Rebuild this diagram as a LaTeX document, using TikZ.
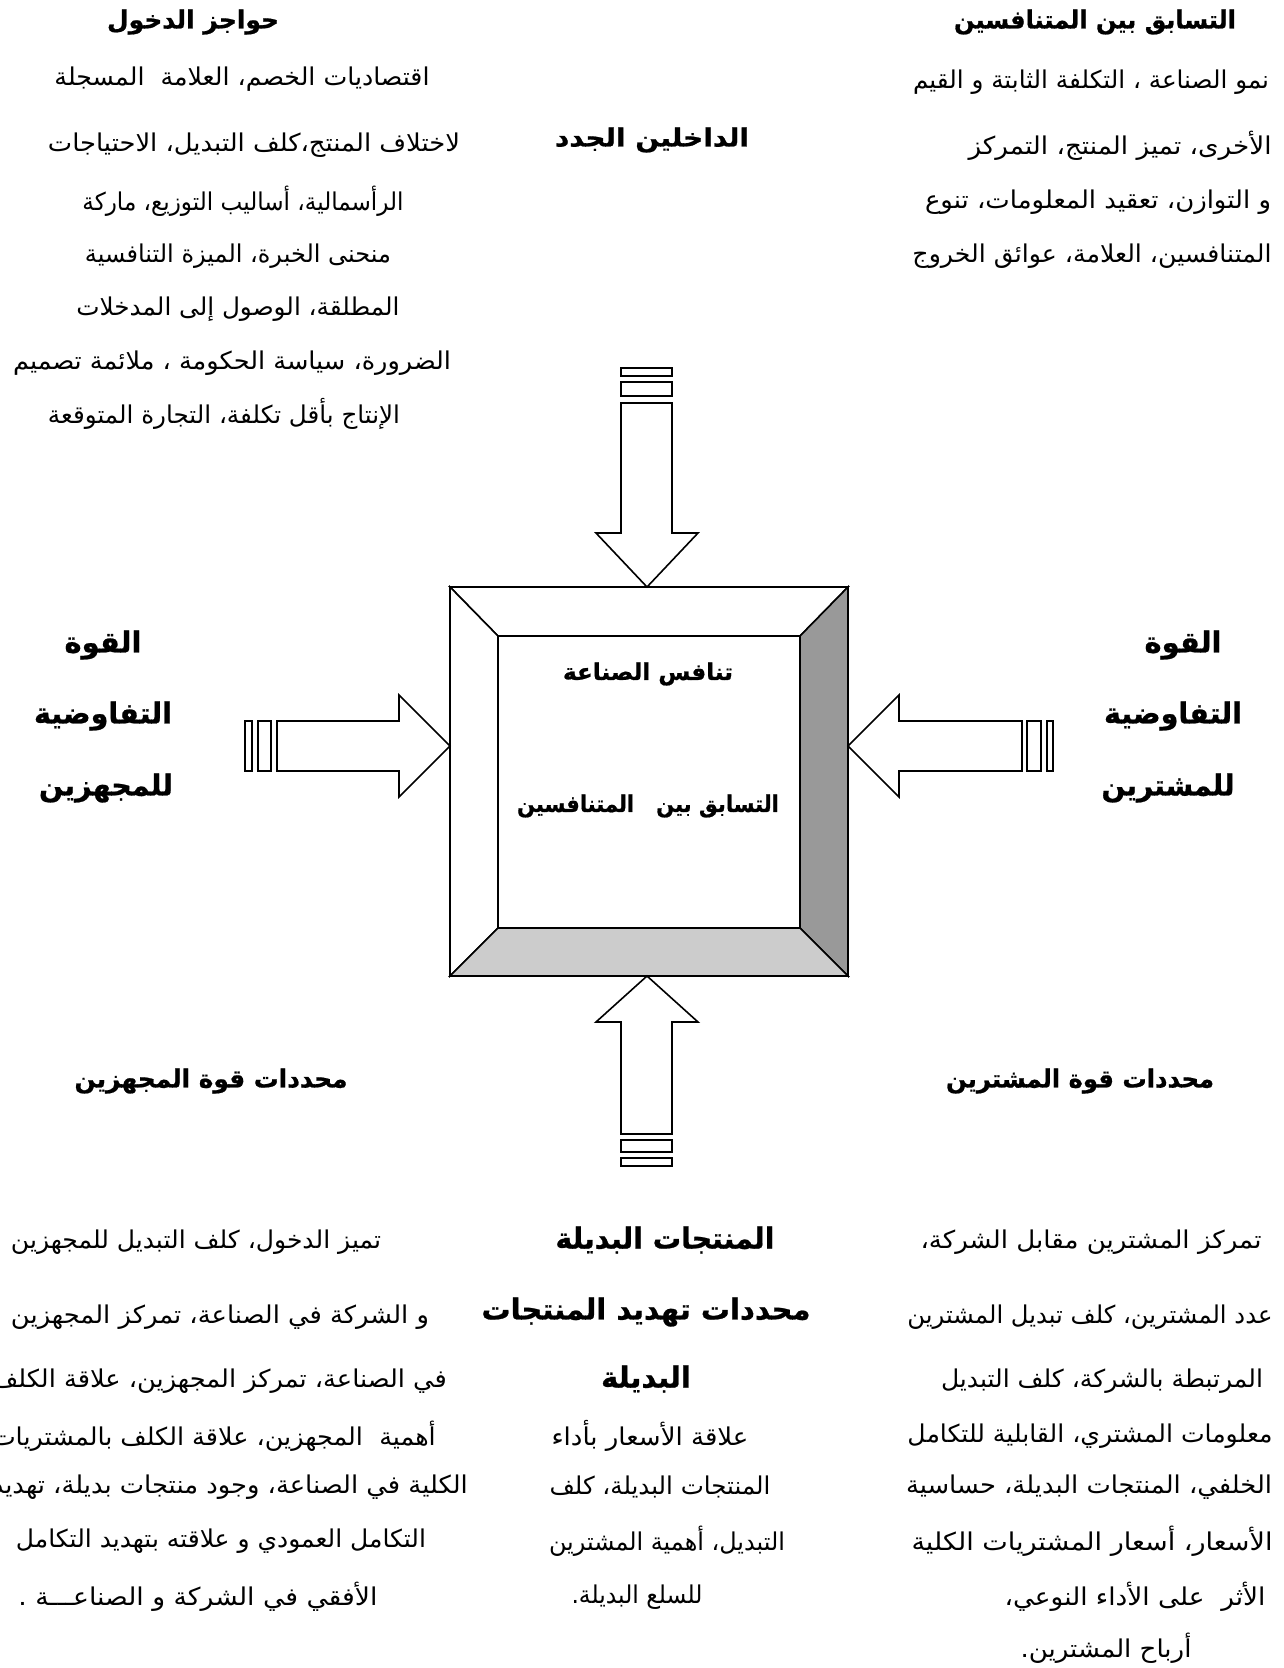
\documentclass[tikz,border=0pt]{standalone}
\usepackage{fontspec}
\usepackage{graphicx}
\TeXXeTstate=1
\newfontfamily\arfont[Script=Arabic, BoldFeatures={FakeBold=0.8}]{DejaVu Sans}
% box set to a given width (horizontal scaling only)
\newcommand\FW[2]{\resizebox{#1pt}{\height}{#2}}
\definecolor{darkface}{HTML}{999999}
\definecolor{lightface}{HTML}{CCCCCC}
\tikzset{
  body/.style={inner sep=0pt, font=\arfont\fontsize{24.5}{28}\selectfont},
  head/.style={inner sep=0pt, font=\arfont\bfseries\fontsize{25}{29}\selectfont},
  bighead/.style={inner sep=0pt, font=\arfont\bfseries\fontsize{29}{33}\selectfont},
  boxtxt/.style={inner sep=0pt, font=\arfont\bfseries\fontsize{23}{27}\selectfont},
  face/.style={draw=black, line width=1.6pt, line join=miter},
  blk/.style={draw=black, line width=1.6pt, fill=white, line join=miter},
}
\begin{document}
\begin{tikzpicture}[x=1pt,y=-1pt]
\useasboundingbox (0,0) rectangle (1284,1668);
\fill[white] (0,0) rectangle (1284,1668);

% ---------- central bevelled box ----------
\coordinate (oTL) at (450,587); \coordinate (oTR) at (848,587);
\coordinate (oBR) at (848,976); \coordinate (oBL) at (450,976);
\coordinate (iTL) at (498,636); \coordinate (iTR) at (800,636);
\coordinate (iBR) at (800,928); \coordinate (iBL) at (498,928);
\draw[face, fill=white] (oTL) -- (oTR) -- (iTR) -- (iTL) -- cycle;
\draw[face, fill=white] (oTL) -- (iTL) -- (iBL) -- (oBL) -- cycle;
\draw[face, fill=darkface] (oTR) -- (oBR) -- (iBR) -- (iTR) -- cycle;
\draw[face, fill=lightface] (oBL) -- (iBL) -- (iBR) -- (oBR) -- cycle;
\draw[face, fill=white] (iTL) rectangle (iBR);

\node[boxtxt] (c1) at (648,674) {\FW{170}{\beginR تنافس الصناعة\endR}};
\node[boxtxt] (c2) at (648,806) {\FW{262}{\beginR التسابق بين \ \ المتنافسين\endR}};

% ---------- top arrow ----------
\draw[blk] (621,403) -- (672,403) -- (672,533) -- (698,533) -- (647,587)
  -- (596,533) -- (621,533) -- cycle;
\draw[blk] (621,382) rectangle (672,396);
\draw[blk] (621,368) rectangle (672,376);

% ---------- bottom arrow ----------
\draw[blk] (621,1134) -- (672,1134) -- (672,1022) -- (698,1022) -- (647,976)
  -- (596,1022) -- (621,1022) -- cycle;
\draw[blk] (621,1140) rectangle (672,1152);
\draw[blk] (621,1158) rectangle (672,1166);

% ---------- left arrow ----------
\draw[blk] (277,721) -- (399,721) -- (399,695) -- (450,746) -- (399,797)
  -- (399,771) -- (277,771) -- cycle;
\draw[blk] (258,721) rectangle (271,771);
\draw[blk] (245,721) rectangle (252,771);

% ---------- right arrow ----------
\draw[blk] (1022,721) -- (899,721) -- (899,695) -- (848,746) -- (899,797)
  -- (899,771) -- (1022,771) -- cycle;
\draw[blk] (1027,721) rectangle (1041,771);
\draw[blk] (1047,721) rectangle (1053,771);

% ---------- top-left : barriers to entry ----------
\node[head] (tlh) at (193,22) {\FW{172}{\beginR حواجز الدخول\endR}};
\node[body] (tl1) at (242,79) {\FW{375}{\beginR اقتصاديات الخصم، العلامة \ المسجلة\endR}};
\node[body] (tl2) at (254,145) {\FW{412}{\beginR لاختلاف المنتج،كلف التبديل، الاحتياجات\endR}};
\node[body] (tl3) at (243,201) {\FW{321}{\beginR الرأسمالية، أساليب التوزيع، ماركة\endR}};
\node[body] (tl4) at (238,256) {\FW{306}{\beginR منحنى الخبرة، الميزة التنافسية\endR}};
\node[body] (tl5) at (238,309) {\FW{323}{\beginR المطلقة، الوصول إلى المدخلات\endR}};
\node[body] (tl6) at (232,363) {\FW{438}{\beginR الضرورة، سياسة الحكومة ، ملائمة تصميم\endR}};
\node[body] (tl7) at (224,414) {\FW{352}{\beginR الإنتاج بأقل تكلفة، التجارة المتوقعة\endR}};

% ---------- top-middle ----------
\node[head] (tm) at (652,140) {\FW{194}{\beginR الداخلين الجدد\endR}};

% ---------- top-right : rivalry ----------
\node[head] (trh) at (1095,22) {\FW{282}{\beginR التسابق بين المتنافسين\endR}};
\node[body] (tr1) at (1091,82) {\FW{356}{\beginR نمو الصناعة ، التكلفة الثابتة و القيم\endR}};
\node[body] (tr2) at (1120,146) {\FW{303}{\beginR الأخرى، تميز المنتج، التمركز\endR}};
\node[body] (tr3) at (1098,202) {\FW{346}{\beginR و التوازن، تعقيد المعلومات، تنوع\endR}};
\node[body] (tr4) at (1092,256) {\FW{359}{\beginR المتنافسين، العلامة، عوائق الخروج\endR}};

% ---------- side labels ----------
\node[bighead] (sl1) at (103,645) {\beginR القوة\endR};
\node[bighead] (sl2) at (103,716) {\FW{138}{\beginR التفاوضية\endR}};
\node[bighead] (sl3) at (106,788) {\FW{134}{\beginR للمجهزين\endR}};
\node[bighead] (sr1) at (1183,645) {\beginR القوة\endR};
\node[bighead] (sr2) at (1173,716) {\FW{138}{\beginR التفاوضية\endR}};
\node[bighead] (sr3) at (1168,788) {\FW{133}{\beginR للمشترين\endR}};

\node[head] (dl) at (211,1081) {\FW{273}{\beginR محددات قوة المجهزين\endR}};
\node[head] (dr) at (1080,1081) {\FW{268}{\beginR محددات قوة المشترين\endR}};

% ---------- bottom-left : suppliers ----------
\node[body] (bl1) at (196,1242) {\FW{370}{\beginR تميز الدخول، كلف التبديل للمجهزين\endR}};
\node[body] (bl2) at (220,1317) {\FW{418}{\beginR و الشركة في الصناعة، تمركز المجهزين\endR}};
\node[body, anchor=east] (bl3) at (447,1381) {\FW{455}{\beginR في الصناعة، تمركز المجهزين، علاقة الكلف\endR}};
\node[body, anchor=east] (bl4) at (436,1436) {\FW{444}{\beginR أهمية \ المجهزين، علاقة الكلف بالمشتريات\endR}};
\node[body, anchor=east] (bl5) at (468,1487) {\FW{476}{\beginR الكلية في الصناعة، وجود منتجات بديلة، تهديد\endR}};
\node[body] (bl6) at (221,1541) {\FW{410}{\beginR التكامل العمودي و علاقته بتهديد التكامل\endR}};
\node[body] (bl7) at (198,1597) {\FW{359}{\beginR الأفقي في الشركة و الصناعـــة .\endR}};

% ---------- bottom-middle : substitutes ----------
\node[bighead] (bm1) at (665,1240) {\FW{219}{\beginR المنتجات البديلة\endR}};
\node[bighead] (bm2) at (646,1312) {\FW{329}{\beginR محددات تهديد المنتجات\endR}};
\node[bighead] (bm3) at (646,1379) {\beginR البديلة\endR};
\node[body] (bm4) at (650,1436) {\FW{197}{\beginR علاقة الأسعار بأداء\endR}};
\node[body] (bm5) at (660,1487) {\FW{221}{\beginR المنتجات البديلة، كلف\endR}};
\node[body] (bm6) at (667,1541) {\FW{236}{\beginR التبديل، أهمية المشترين\endR}};
\node[body] (bm7) at (637,1597) {\FW{131}{\beginR للسلع البديلة.\endR}};

% ---------- bottom-right : buyers ----------
\node[body] (br1) at (1091,1242) {\FW{341}{\beginR تمركز المشترين مقابل الشركة،\endR}};
\node[body] (br2) at (1090,1317) {\FW{365}{\beginR عدد المشترين، كلف تبديل المشترين\endR}};
\node[body] (br3) at (1102,1381) {\FW{322}{\beginR المرتبطة بالشركة، كلف التبديل\endR}};
\node[body] (br4) at (1090,1436) {\FW{365}{\beginR معلومات المشتري، القابلية للتكامل\endR}};
\node[body] (br5) at (1089,1487) {\FW{366}{\beginR الخلفي، المنتجات البديلة، حساسية\endR}};
\node[body] (br6) at (1092,1541) {\FW{361}{\beginR الأسعار، أسعار المشتريات الكلية\endR}};
\node[body] (br7) at (1135,1597) {\FW{261}{\beginR الأثر \ على الأداء النوعي،\endR}};
\node[body] (br8) at (1106,1648) {\FW{171}{\beginR أرباح المشترين.\endR}};
\end{tikzpicture}
\end{document}
